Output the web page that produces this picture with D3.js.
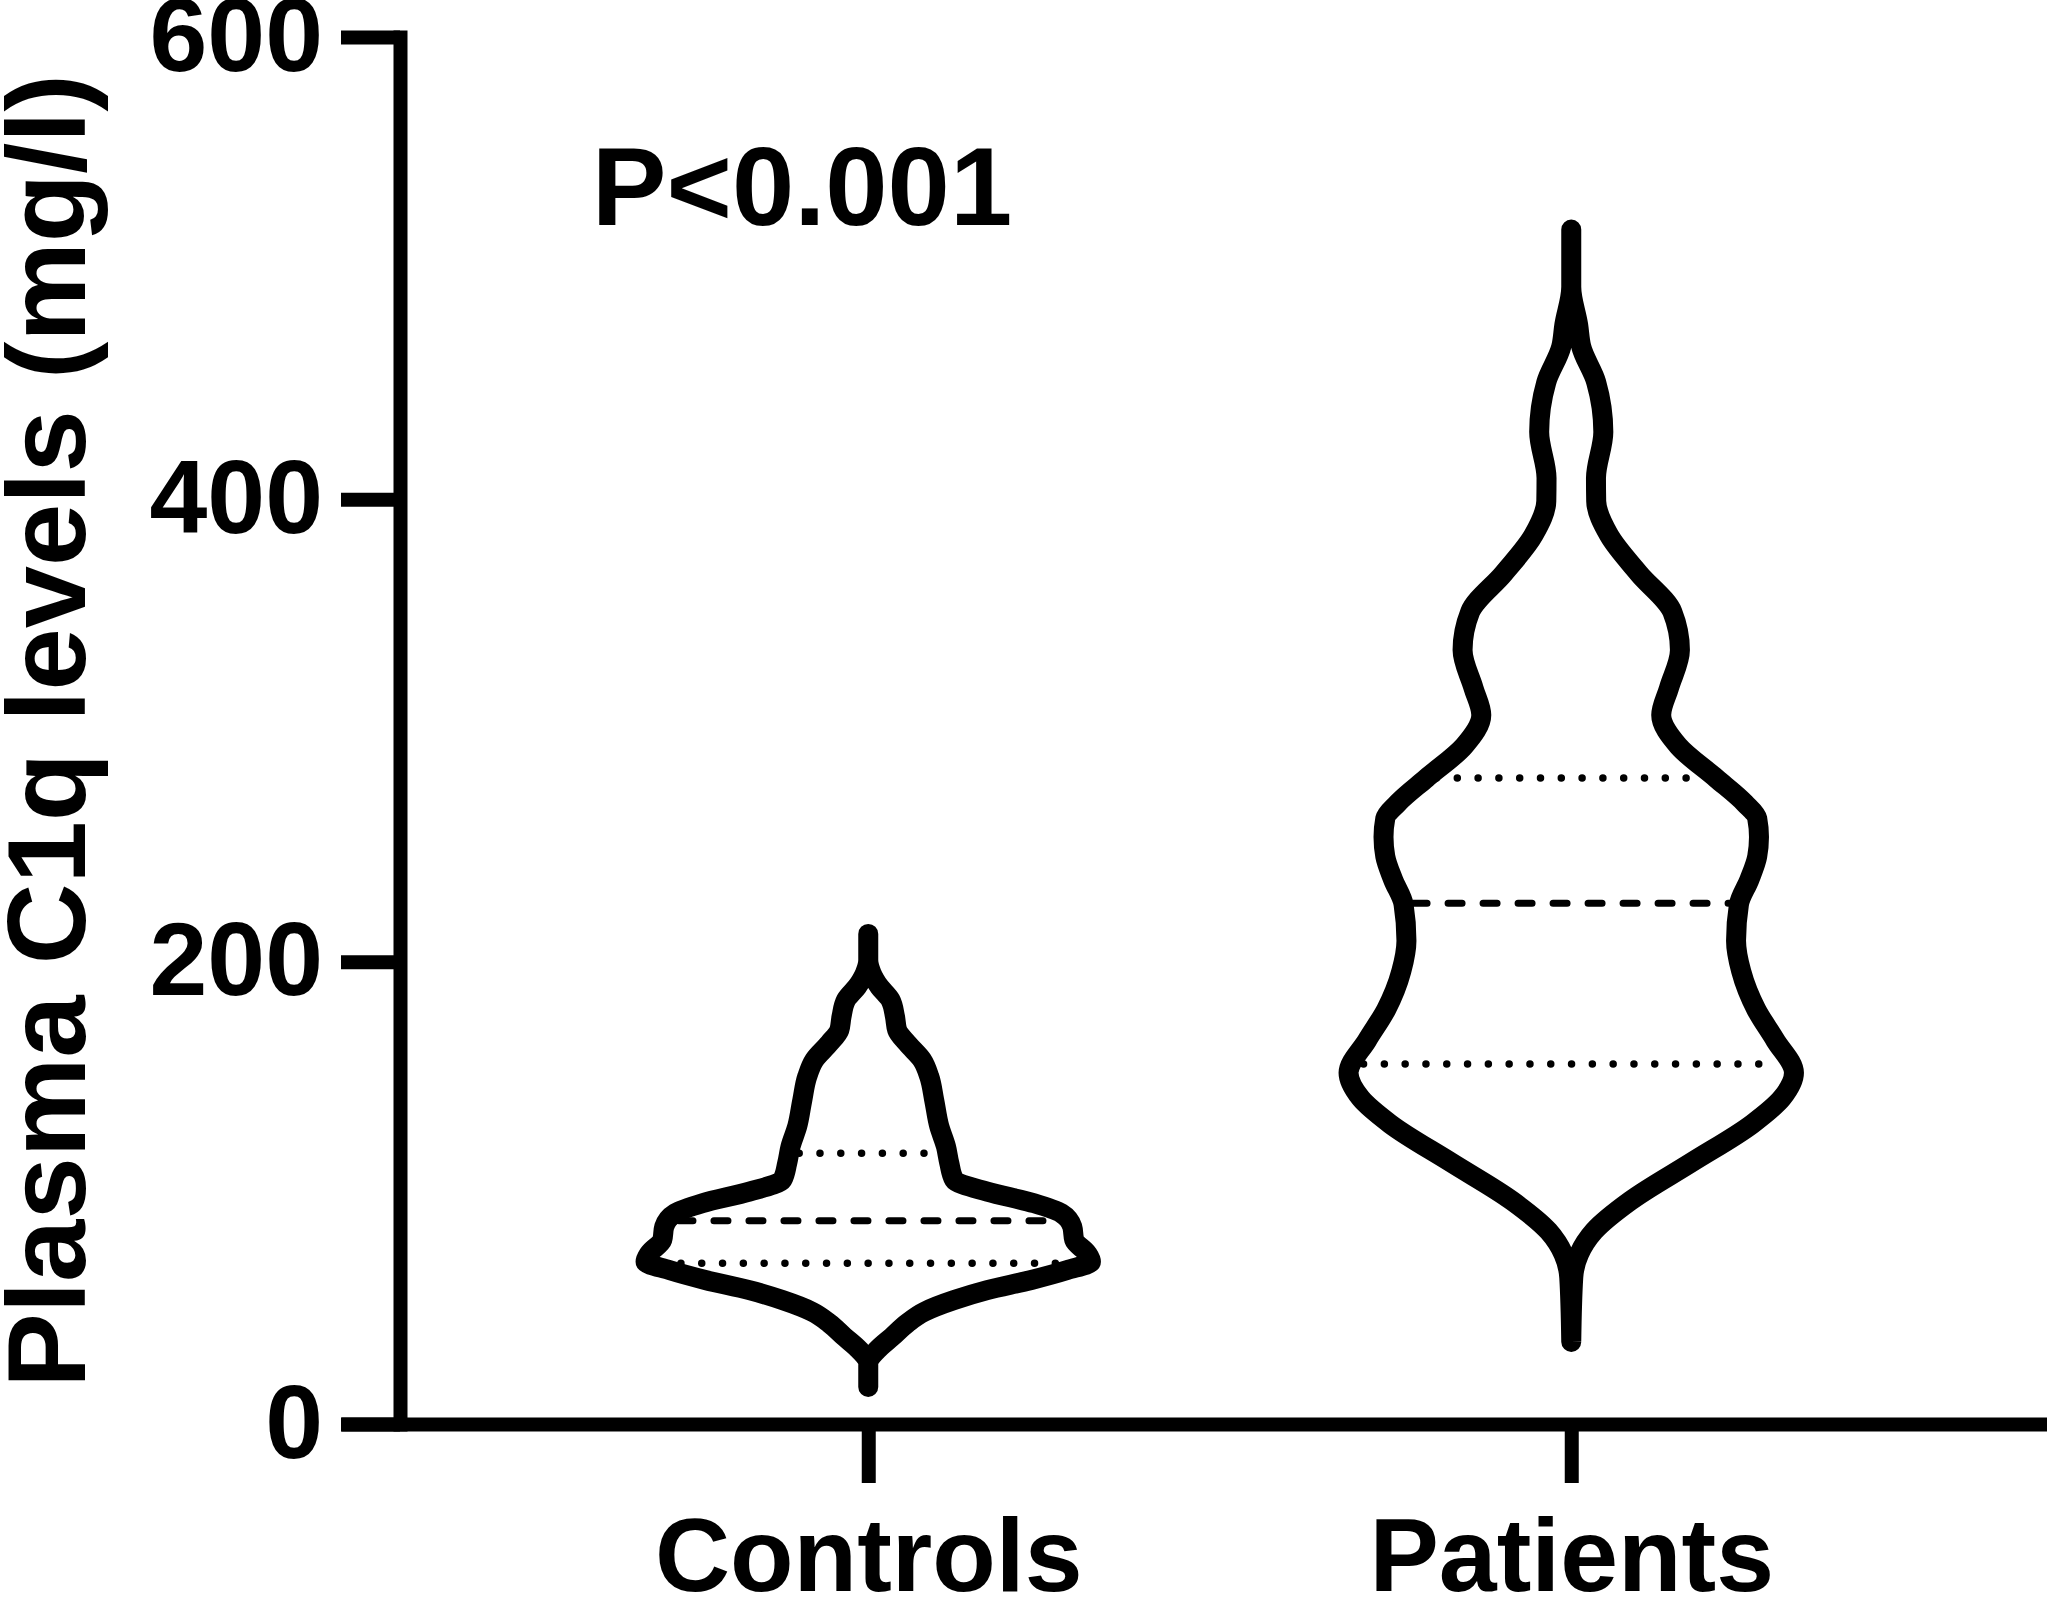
<!DOCTYPE html>
<html>
<head>
<meta charset="utf-8">
<script src="https://cdn.jsdelivr.net/npm/d3@7"></script>
<style>
    body { margin: 0; background: #fff; }
    text { font-family: "Liberation Sans", Arial, sans-serif; font-weight: bold; fill: #000; }
</style>
</head>
<body>
<script>
//wrap everything in a self-executing anonymous function to keep it local
(function () {

    //chart data
    var categories = ["Controls", "Patients"];
    var yTicks = [0, 200, 400, 600];

    //violin outlines: C1q level (mg/l) and relative density (1 = widest)
    var controlsLevels = [16, 26.3, 32, 37.8, 43.6, 48.5, 53.6, 57.9, 62.3, 66.6, 70.2, 73.8, 79.6, 85.4, 91.2, 95.5, 100.5, 105.6, 112.8, 120, 128.7, 140.2, 150.3, 157.5, 164.7, 170.4, 176.2, 183.4, 189.2, 195, 200.7, 212];
    var controlsDensity = [0, 0, 0.04, 0.108, 0.175, 0.251, 0.386, 0.534, 0.732, 0.894, 1.0, 0.983, 0.925, 0.916, 0.867, 0.745, 0.534, 0.386, 0.364, 0.349, 0.319, 0.296, 0.274, 0.242, 0.175, 0.13, 0.12, 0.1, 0.05, 0.015, 0, 0];

    var patientsLevels = [35.5, 63.4, 73.5, 83.4, 96.5, 113.1, 129.8, 141.1, 151.9, 166.1, 179.3, 195.9, 209.1, 224.8, 235.5, 245.5, 253.9, 262, 268.5, 279.4, 293.4, 306.7, 318.4, 334.8, 351.3, 367.9, 384.6, 399.3, 409.2, 429.1, 450.7, 466, 475.5, 492, 516.7];
    var patientsDensity = [0, 0.009, 0.035, 0.102, 0.265, 0.539, 0.813, 0.947, 1.0, 0.916, 0.831, 0.763, 0.74, 0.753, 0.8, 0.835, 0.843, 0.835, 0.78, 0.65, 0.48, 0.404, 0.439, 0.488, 0.454, 0.304, 0.169, 0.112, 0.111, 0.144, 0.112, 0.045, 0.031, 0, 0];

    //quartiles: lower, median, upper
    var controlsQuartiles = [69.5, 87.9, 117.1];
    var patientsQuartiles = [155.7, 225.3, 279.4];

    var pLabel = "P<0.001";
    var yTitle = "Plasma C1q levels (mg/l)";

    setChart();

    function setChart(){

        var width = 2047,
            height = 1597;

        var svg = d3.select("body")
            .append("svg")
            .attr("width", width)
            .attr("height", height);

        //scales
        var y = d3.scaleLinear()
            .domain([0, 600])
            .range([1424, 37]);

        var x = d3.scalePoint()
            .domain(categories)
            .range([341, 2098.5])
            .padding(0.75);

        //half width of a violin at density 1
        var w = d3.scaleLinear()
            .domain([0, 1])
            .range([0, 222.7]);

        var groups = [
            {name: categories[0], levels: controlsLevels, density: controlsDensity, quart: controlsQuartiles},
            {name: categories[1], levels: patientsLevels, density: patientsDensity, quart: patientsQuartiles}
        ];

        groups.forEach(function (g) {
            drawViolin(svg, g, x, y, w);
        });

        setAxes(svg, x, y);

        //p value
        svg.append("text")
            .attr("x", 802)
            .attr("y", 225)
            .attr("text-anchor", "middle")
            .attr("font-size", 112)
            .text(pLabel);

        //y axis title
        svg.append("text")
            .attr("transform", "translate(85,731) rotate(-90)")
            .attr("text-anchor", "middle")
            .attr("font-size", 112)
            .text(yTitle);
    }

    function drawViolin(svg, g, x, y, w){
        var cx = x(g.name);
        var pts = g.levels.map(function (v, i) {
            return {level: v, density: g.density[i]};
        });

        //density at any level, for the quartile lines
        var densAt = d3.scaleLinear().domain(g.levels).range(g.density);

        //quartile lines go under the outline
        g.quart.forEach(function (q, i) {
            var half = w(densAt(q)) - 10;
            svg.append("line")
                .attr("x1", cx - half)
                .attr("x2", cx + half)
                .attr("y1", y(q))
                .attr("y2", y(q))
                .attr("stroke", "#000")
                .attr("stroke-linecap", "round")
                .attr("stroke-width", i == 1 ? 7 : 7.5)
                .attr("stroke-dasharray", i == 1 ? "14 21" : "0 20.8");
        });

        //monotone curve keeps the stems from crossing over
        var area = d3.area()
            .curve(d3.curveMonotoneY)
            .y(function (d) { return y(d.level); })
            .x0(function (d) { return cx - w(d.density); })
            .x1(function (d) { return cx + w(d.density); });

        svg.append("path")
            .datum(pts)
            .attr("class", "violin " + g.name)
            .attr("d", area)
            .attr("fill", "none")
            .attr("stroke", "#000")
            .attr("stroke-width", 20)
            .attr("stroke-linejoin", "round");
    }

    function setAxes(svg, x, y){
        var yAxis = d3.axisLeft(y)
            .tickValues(yTicks)
            .tickSize(59)
            .tickSizeOuter(0)
            .tickPadding(18);

        var gy = svg.append("g")
            .attr("transform", "translate(400,0)")
            .call(yAxis)
            .attr("font-size", 104);
        gy.select(".domain")
            .attr("stroke-width", 14)
            .attr("stroke-linecap", "square");
        gy.selectAll(".tick line").attr("stroke-width", 14);

        var xAxis = d3.axisBottom(x)
            .tickSize(59)
            .tickSizeOuter(0)
            .tickPadding(34);

        var gx = svg.append("g")
            .attr("transform", "translate(0,1424)")
            .call(xAxis)
            .attr("font-size", 104);
        gx.select(".domain").attr("stroke-width", 14);
        gx.selectAll(".tick line").attr("stroke-width", 14);
    }

})();
</script>
</body>
</html>
